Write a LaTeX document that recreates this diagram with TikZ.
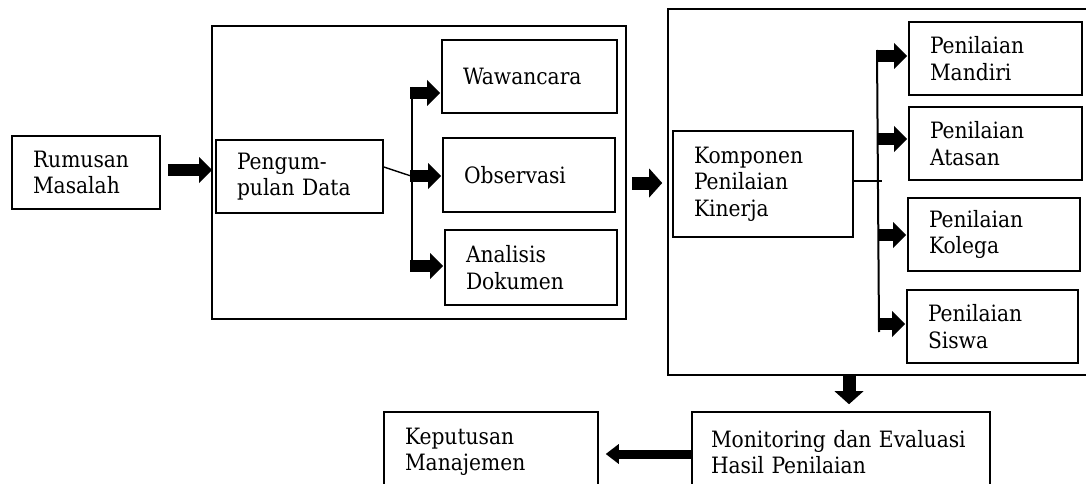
\documentclass[tikz,border=0pt]{standalone}
\usepackage{fontspec}
\setmainfont{DejaVu Serif Condensed}
\usetikzlibrary{arrows.meta,calc}
\tikzset{
  box/.style={draw, line width=1.6pt, rectangle, align=left, inner xsep=21pt, inner ysep=0pt,
    font=\fontsize{22.5}{26.5}\selectfont},
  frame/.style={draw, line width=1.6pt, rectangle, inner sep=0pt},
  conn/.style={line width=1.4pt},
  trunk/.style={line width=2pt},
  arrA/.style={line width=12pt, -{Triangle[length=13pt,width=26pt,line width=0pt]}},
  arrB/.style={line width=13pt, -{Triangle[length=13pt,width=29pt,line width=0pt]}},
  arrC/.style={line width=9pt, -{Triangle[length=13pt,width=20pt,line width=0pt]}},
}
\begin{document}
\begin{tikzpicture}[x=1pt,y=-1pt]
\useasboundingbox (0,0) rectangle (1086,484);
\fill[white] (0,0) rectangle (1086,484);
\clip (0,0) rectangle (1086,484);

% frames
\node[frame, minimum width=414pt, minimum height=293pt] (box1) at (419,172.5) {};
\node[frame, minimum width=440pt, minimum height=366pt] (box2) at (888,192) {};

% boxes
\node[box, minimum height=73pt, text width=106pt] (rumusan) at (86,172.5) {Rumusan\\Masalah};
\node[box, minimum height=73pt, text width=125pt] (pengum) at (299.5,176.5) {Pengum-\\pulan Data};
\node[box, minimum height=73pt, text width=133pt] (waw) at (529.5,76.5) {Wawancara};
\node[box, minimum height=74pt, text width=130pt] (obs) at (529,175) {Observasi};
\node[box, minimum height=75pt, text width=130pt] (anal) at (531,267.5) {Analisis\\Dokumen};
\node[box, minimum height=106pt, text width=138pt] (komp) at (763,184) {Komponen\\Penilaian\\Kinerja};
\node[box, minimum height=73pt, text width=131pt] (mandiri) at (995.5,58.5) {Penilaian\\Mandiri};
\node[box, minimum height=73pt, text width=131pt] (atasan) at (995.5,143.5) {Penilaian\\Atasan};
\node[box, minimum height=73pt, text width=130pt] (kolega) at (994,234.5) {Penilaian\\Kolega};
\node[box, minimum height=73pt, text width=129pt] (siswa) at (992.5,326.5) {Penilaian\\Siswa};
\node[box, minimum height=80pt, text width=172pt] (keput) at (491,452) {Keputusan\\Manajemen};
\node[box, minimum height=80pt, inner xsep=19pt, text width=260pt] (monit) at (841,452) {Monitoring dan Evaluasi\\Hasil Penilaian};

% rumusan -> pengumpulan
\draw[arrA] ([xshift=7pt,yshift=2.5pt]rumusan.east) -- ([xshift=1pt,yshift=2.5pt]rumusan.east -| box1.west);

% left tree
\coordinate (j1) at (411,176);
\coordinate (t1a) at (412,87);
\coordinate (t1b) at (412,268);
\coordinate (b1) at (410,93);
\coordinate (b2) at (410,176);
\coordinate (b3) at (410,266);
\draw[conn] ([yshift=9.5pt]pengum.east) -- (j1);
\draw[trunk] (t1a) -- (t1b);
\draw[arrA] (b1) -- ([xshift=-1pt]b1 -| waw.west);
\draw[arrA] (b2) -- ([xshift=-1pt]b2 -| obs.west);
\draw[arrA] (b3) -- ([xshift=-1pt]b3 -| anal.west);

% box1 -> box2
\coordinate (a2) at (632,183);
\draw[arrB] (a2) -- ([xshift=-5pt]a2 -| box2.west);

% right tree
\coordinate (k1) at (882,181);
\coordinate (t2a) at (877,50);
\coordinate (t2b) at (879,332);
\coordinate (c1) at (877,56);
\coordinate (c2) at (877,139);
\coordinate (c3) at (878,235);
\coordinate (c4) at (879,324);
\draw[conn] ([yshift=3pt]komp.east) -- (k1);
\draw[trunk] (t2a) -- (t2b);
\draw[arrA] (c1) -- ([xshift=-1pt]c1 -| mandiri.west);
\draw[arrA] (c2) -- ([xshift=-1pt]c2 -| atasan.west);
\draw[arrA] (c3) -- ([xshift=-1pt]c3 -| kolega.west);
\draw[arrA] (c4) -- ([xshift=-1pt]c4 -| siswa.west);

% box2 -> monitoring
\coordinate (d1) at (849,375);
\draw[arrB] (d1) -- ([yshift=7pt]d1 |- monit.north);

% monitoring -> keputusan
\draw[arrC] ([yshift=-2pt]monit.west) -- ([yshift=-2pt,xshift=7pt]monit.west -| keput.east);
\end{tikzpicture}
\end{document}
